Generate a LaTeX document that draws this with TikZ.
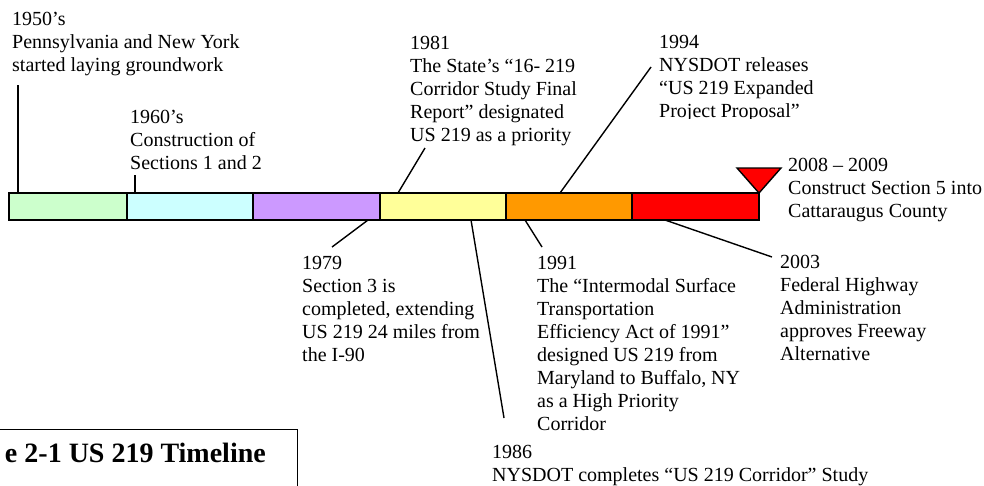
\documentclass[tikz,border=0pt]{standalone}
\usepackage{fontspec}
\setmainfont{Liberation Serif}
\definecolor{cGreen}{HTML}{CCFFCC}
\definecolor{cCyan}{HTML}{CCFFFF}
\definecolor{cPurple}{HTML}{CC99FF}
\definecolor{cYellow}{HTML}{FFFF99}
\definecolor{cOrange}{HTML}{FF9900}
\definecolor{cRed}{HTML}{FF0000}
\begin{document}
\begin{tikzpicture}[x=1pt,y=-1pt,
  seg/.style={draw=black, line width=1.4pt, minimum height=27pt, inner sep=0pt, outer sep=0pt, anchor=north west},
  lbl/.style={anchor=base west, inner sep=0pt, font=\fontsize{20}{23}\selectfont},
  conn/.style={draw=black, line width=1.4pt},
  titlebox/.style={draw=black, line width=1.3pt, inner sep=0pt, anchor=north east, minimum width=320pt, minimum height=80pt}]
\useasboundingbox (0,0) rectangle (984,485);
\fill[white] (0,0) rectangle (984,485);

% timeline bar
\node[seg, fill=cGreen,  minimum width=118pt] (s1) at (9,193) {};
\node[seg, fill=cCyan,   minimum width=126pt] (s2) at (127,193) {};
\node[seg, fill=cPurple, minimum width=127pt] (s3) at (253,193) {};
\node[seg, fill=cYellow, minimum width=126pt] (s4) at (380,193) {};
\node[seg, fill=cOrange, minimum width=126pt] (s5) at (506,193) {};
\node[seg, fill=cRed,    minimum width=127pt] (s6) at (632,193) {};

% marker triangle
\coordinate (m1) at (737,168);
\coordinate (m2) at (781,168);
\coordinate (m3) at (759,193);
\draw[fill=cRed, line width=1.4pt, line join=miter] (m1) -- (m2) -- (m3) -- cycle;

% labels
\node[lbl] (t1950) at (12,25) {\begin{tabular}[t]{@{}l@{}}1950’s\\Pennsylvania and New York\\started laying groundwork\end{tabular}};
\node[lbl] (t1960) at (130,123) {\begin{tabular}[t]{@{}l@{}}1960’s\\Construction of\\Sections 1 and 2\end{tabular}};
\node[lbl] (t1981) at (410,49) {\begin{tabular}[t]{@{}l@{}}1981\\The State’s “16- 219\\Corridor Study Final\\Report” designated\\US 219 as a priority\end{tabular}};
\begin{scope}
\clip (600,0) rectangle (984,118);
\node[lbl] (t1994) at (659,48) {\begin{tabular}[t]{@{}l@{}}1994\\NYSDOT releases\\“US 219 Expanded\\Project Proposal”\end{tabular}};
\end{scope}
\node[lbl] (t2008) at (788,171) {\begin{tabular}[t]{@{}l@{}}2008 – 2009\\Construct Section 5 into\\Cattaraugus County\end{tabular}};
\node[lbl] (t1979) at (302,269) {\begin{tabular}[t]{@{}l@{}}1979\\Section 3 is\\completed, extending\\US 219 24 miles from\\the I-90\end{tabular}};
\node[lbl] (t1991) at (537,269) {\begin{tabular}[t]{@{}l@{}}1991\\The “Intermodal Surface\\Transportation\\Efficiency Act of 1991”\\designed US 219 from\\Maryland to Buffalo, NY\\as a High Priority\\Corridor\end{tabular}};
\node[lbl] (t1986) at (492,458) {\begin{tabular}[t]{@{}l@{}}1986\\NYSDOT completes “US 219 Corridor” Study\end{tabular}};
\node[lbl] (t2003) at (780,268) {\begin{tabular}[t]{@{}l@{}}2003\\Federal Highway\\Administration\\approves Freeway\\Alternative\end{tabular}};

% connectors
\coordinate (a1950) at (18,193);   \coordinate (b1950) at (18,85);
\coordinate (a1960) at (135,193);  \coordinate (b1960) at (135,175);
\coordinate (a1981) at (398,193);  \coordinate (b1981) at (425,148);
\coordinate (a1994) at (560,193);  \coordinate (b1994) at (651,67);
\coordinate (a1979) at (368,220);  \coordinate (b1979) at (332,247);
\coordinate (a1986) at (471,220);  \coordinate (b1986) at (504,418);
\coordinate (a1991) at (525,220);  \coordinate (b1991) at (542,247);
\coordinate (a2003) at (665,220);  \coordinate (b2003) at (772,257);
\foreach \n in {1950,1960,1981,1994,1979,1986,1991,2003}
  \draw[conn] (a\n) -- (b\n);

% title box
\node[titlebox] (box) at (298,429) {};
\node[anchor=base east, inner sep=0pt, font=\fontsize{28}{32}\selectfont\bfseries] (title) at (266,462) {e 2-1 US 219 Timeline};
\end{tikzpicture}
\end{document}
